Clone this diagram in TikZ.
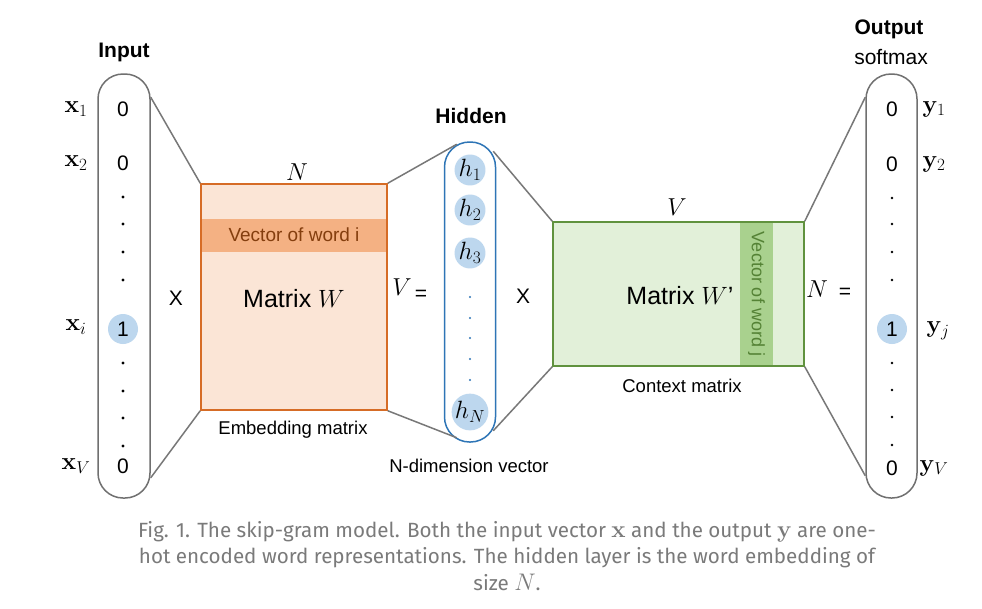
\RequirePackage{fix-cm}
\documentclass[tikz,border=0pt]{standalone}
\usepackage[no-math]{fontspec}
\setmainfont{Liberation Sans}
\newfontfamily\capfont{Fira Sans}
\usetikzlibrary{positioning}
\definecolor{pillgray}{RGB}{112,112,112}
\definecolor{linkgray}{RGB}{120,120,120}
\definecolor{hotblue}{RGB}{189,215,238}
\definecolor{hidblue}{RGB}{46,117,182}
\definecolor{embedge}{RGB}{214,108,38}
\definecolor{embfill}{RGB}{251,229,214}
\definecolor{embband}{RGB}{244,177,131}
\definecolor{embtext}{RGB}{132,62,14}
\definecolor{ctxedge}{RGB}{96,146,62}
\definecolor{ctxfill}{RGB}{226,240,217}
\definecolor{ctxband}{RGB}{169,209,142}
\definecolor{ctxtext}{RGB}{84,130,53}
\definecolor{capgray}{RGB}{122,122,122}
\newcommand\capmath[1]{{\fontsize{24}{26.5}\selectfont$#1$}}
\begin{document}
\begin{tikzpicture}[x=1pt, y=-1pt,
    pill/.style={draw=pillgray, line width=1.5pt, rounded corners=25pt, minimum width=52pt, inner sep=0pt},
    link/.style={draw=linkgray, line width=1.5pt},
    bit/.style={font=\fontsize{21}{24}\selectfont, inner sep=0pt},
    hot/.style={bit, circle, fill=hotblue, minimum size=30pt},
    hnode/.style={circle, fill=hotblue, minimum size=30pt, inner sep=0pt, font=\fontsize{25}{28}\selectfont},
    vdot/.style={circle, fill=black, inner sep=0pt, minimum size=3.4pt},
    head/.style={font=\fontsize{21}{24}\selectfont\bfseries, inner sep=0pt},
    lbl/.style={font=\fontsize{18.5}{22}\selectfont, inner sep=0pt},
    sym/.style={font=\fontsize{24.5}{28}\selectfont, inner sep=0pt},
    matname/.style={font=\fontsize{25}{30}\selectfont, inner sep=0pt}]
  \useasboundingbox (0,0) rectangle (982,608);
  \fill[white] (0,0) rectangle (982,608);

  % input one-hot vector
  \node[pill, minimum height=424pt] (inp) at (124,286) {};
  \node[head] (inphead) at (124,52) {Input};
  \foreach \idx/\y/\sub in {a/109/1,b/163/2,v/466/V}{
    \node[bit] (xb\idx) at (123,\y) {0};
    \node[sym] (x\idx) at (76,\y) {$\mathbf{x}_{\sub}$};
  }
  \node[hot] (xbi) at (123,329) {1};
  \node[sym] (xi) at (76,327) {$\mathbf{x}_i$};
  \foreach \y in {197,224,252,280,363,391,418,446}
    \node[vdot] (xd\y) at (123,\y) {};

  \node[bit] (times1) at (176,298) {X};

  % embedding matrix
  \node[draw=embedge, fill=embfill, line width=1.5pt, minimum width=186pt, minimum height=226pt, inner sep=0pt] (emb) at (294,297) {};
  \node[fill=embband, minimum width=184.5pt, minimum height=33pt, inner sep=0pt, font=\fontsize{19}{22}\selectfont, text=embtext] (embrow) at (294,235) {Vector of word i};
  \node[matname] (embname) at (294,299) {Matrix $W$};
  \node[sym] (embN) at (297,172) {$N$};
  \node[lbl] (embcap) at (293,430) {Embedding matrix};
  \node[sym] (embV) at (402,287) {$V$};
  \node[bit] (eq1) at (421,295) {=};

  % hidden layer
  \node[pill, draw=hidblue, minimum height=300pt, minimum width=51pt] (hid) at (470,292) {};
  \node[head] (hidhead) at (471,116) {Hidden};
  \foreach \k/\y in {1/170,2/210,3/253,N/412}
    \node[hnode] (h\k) at (470,\y) {$h_{\k}$};
  \foreach \y in {297,318,338,359,380}
    \node[vdot, fill=hidblue, minimum size=2.4pt] (hd\y) at (470,\y) {};
  \node[lbl] (hidcap) at (469,466) {N-dimension vector};

  \node[bit] (times2) at (523,296) {X};

  % context matrix
  \node[draw=ctxedge, fill=ctxfill, line width=1.5pt, minimum width=251pt, minimum height=144pt, inner sep=0pt] (ctx) at (678.5,294) {};
  \node[fill=ctxband, minimum width=33pt, minimum height=142.5pt, inner sep=0pt] (ctxcol) at (756.5,294) {};
  \node[rotate=-90, font=\fontsize{18}{21}\selectfont, text=ctxtext, inner sep=0pt] (ctxcoltxt) at (ctxcol) {Vector of word j};
  \node[matname] (ctxname) at (680,296) {Matrix $W$’};
  \node[sym] (ctxV) at (677,207) {$V$};
  \node[lbl] (ctxcap) at (682,386) {Context matrix};
  \node[sym] (ctxN) at (817,289) {$N$};
  \node[bit] (eq2) at (845,293) {=};

  % output vector
  \node[pill, minimum height=424pt, minimum width=51pt] (outp) at (891.5,286) {};
  \node[head] (outhead) at (889,29) {Output};
  \node[font=\fontsize{21}{24}\selectfont, inner sep=0pt] (outsoft) at (891,57) {softmax};
  \foreach \idx/\y/\sub in {a/109/1,b/164/2,v/468/V}{
    \node[bit] (yb\idx) at (892,\y) {0};
    \node[sym] (y\idx) at (934,\y) {$\mathbf{y}_{\sub}$};
  }
  \node[hot] (ybj) at (892,329) {1};
  \node[sym] (yj) at (938,331) {$\mathbf{y}_j$};
  \foreach \y in {198,224,252,280,363,390,417,445}
    \node[vdot, minimum size=2.6pt] (yd\y) at (892,\y) {};

  % connectors
  \draw[link] ([yshift=-24pt]inp.north east) -- (emb.north west);
  \draw[link] ([yshift=21pt]inp.south east) -- (emb.south west);
  \draw[link] (emb.north east) -- ([xshift=13pt,yshift=-3pt]hid.north west);
  \draw[link] (emb.south east) -- ([xshift=13pt,yshift=5pt]hid.south west);
  \draw[link] ([xshift=-3pt,yshift=-10pt]hid.north east) -- (ctx.north west);
  \draw[link] ([xshift=-3pt,yshift=12pt]hid.south east) -- (ctx.south west);
  \draw[link] (ctx.north east) -- ([yshift=-24pt]outp.north west);
  \draw[link] (ctx.south east) -- ([yshift=23pt]outp.south west);

  % caption
  \node[font=\capfont\fontsize{20.6}{26.5}\selectfont, text=capgray, align=center, inner sep=0pt] (caption) at (507,556)
    {Fig. 1. The skip-gram model. Both the input vector \capmath{\mathbf{x}} and the output \capmath{\mathbf{y}} are one-\\
     hot encoded word representations. The hidden layer is the word embedding of\\
     size \capmath{N}.};
\end{tikzpicture}
\end{document}
